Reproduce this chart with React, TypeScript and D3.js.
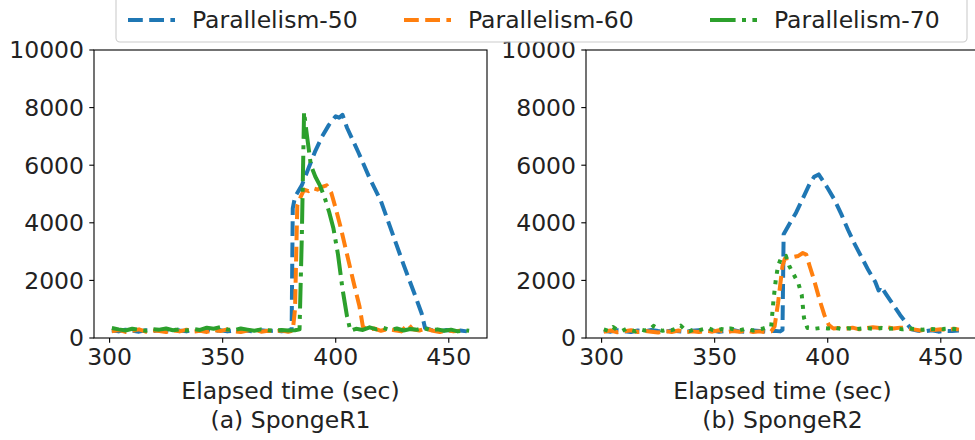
import React from 'react'
import * as d3 from 'd3'

// [elapsed sec, value] readings per run
const r1p50 = [
  [301, 260], [304, 230], [307, 290], [310, 250], [313, 220], [316, 270], [319, 240], [322, 280],
  [325, 250], [328, 300], [331, 260], [334, 230], [337, 280], [340, 250], [343, 290], [346, 240],
  [349, 270], [352, 230], [355, 260], [358, 300], [361, 250], [364, 230], [367, 270], [370, 240],
  [373, 260], [376, 230], [379, 250], [380.5, 300], [381, 4500], [382, 4900], [385, 5300],
  [388, 5900], [391, 6500], [394, 7000], [397, 7400], [400, 7700], [401.5, 7650], [403, 7750],
  [405, 7300], [410, 6450], [415, 5550], [420, 4750], [425, 3650], [430, 2550], [435, 1500],
  [438, 850], [439.5, 350], [443, 260], [446, 230], [449, 280], [452, 240], [455, 260], [458, 230],
]

const r1p60 = [
  [301, 230], [304, 280], [307, 210], [310, 250], [313, 300], [316, 220], [319, 260], [322, 240],
  [325, 210], [328, 270], [331, 230], [334, 290], [337, 220], [340, 250], [343, 210], [346, 280],
  [349, 240], [352, 300], [355, 230], [358, 210], [361, 260], [364, 300], [367, 220], [370, 250],
  [373, 230], [376, 260], [379, 220], [381, 250], [382, 1000], [383, 4600], [384.5, 4900],
  [386, 5150], [388, 5100], [390, 5200], [392, 5150], [394, 5250], [396, 5300], [398, 5050],
  [400, 4500], [402, 3900], [405, 2900], [408, 1900], [410.5, 1100], [412, 400], [414, 280],
  [417, 330], [420, 250], [423, 310], [426, 270], [429, 230], [432, 480], [434, 300], [437, 260],
  [440, 330], [443, 250], [446, 210], [449, 270], [452, 230], [455, 250],
]

const r1p70 = [
  [301, 350], [304, 300], [307, 260], [310, 320], [313, 280], [316, 250], [319, 310], [322, 290],
  [325, 330], [328, 270], [331, 300], [334, 260], [337, 310], [340, 280], [343, 360], [346, 320],
  [349, 380], [352, 300], [355, 270], [358, 330], [361, 290], [364, 250], [367, 300], [370, 270],
  [373, 260], [376, 280], [379, 260], [382, 270], [384, 300], [385, 3500], [386, 7850], [387, 7200],
  [388, 6600], [389, 6000], [391, 5600], [393, 5300], [395, 4900], [397, 4400], [399, 3800],
  [401, 2900], [403, 1700], [405, 750], [406.5, 250], [409, 320], [412, 280], [415, 370],
  [418, 300], [421, 350], [424, 280], [427, 330], [430, 260], [433, 310], [436, 290], [439, 340],
  [442, 270], [445, 300], [448, 250], [451, 290], [454, 230], [457, 270], [459, 250],
]

const r2p50 = [
  [301, 250], [304, 220], [307, 270], [310, 240], [313, 210], [316, 260], [319, 230], [322, 280],
  [325, 240], [328, 220], [331, 260], [334, 230], [337, 210], [340, 250], [343, 270], [346, 230],
  [349, 260], [352, 220], [355, 250], [358, 280], [361, 230], [364, 210], [367, 260], [370, 240],
  [373, 220], [376, 250], [379, 230], [380, 280], [380.5, 3600], [383, 3950], [386, 4350],
  [389, 4850], [392, 5350], [394, 5600], [396, 5680], [398, 5450], [400, 5200], [403, 4800],
  [406, 4300], [409, 3750], [412, 3250], [415, 2800], [418, 2350], [421, 1950], [422.5, 1650],
  [423.5, 1800], [426, 1500], [429, 1150], [432, 800], [435, 500], [437, 300], [440, 250],
  [443, 230], [446, 270], [449, 220], [452, 250], [455, 240], [458, 260],
]

const r2p60 = [
  [301, 220], [304, 260], [307, 200], [310, 230], [313, 270], [316, 210], [319, 250], [322, 220],
  [325, 190], [328, 240], [331, 210], [334, 260], [337, 200], [340, 230], [343, 210], [346, 250],
  [349, 220], [352, 270], [355, 200], [358, 240], [361, 220], [364, 260], [367, 210], [370, 230],
  [373, 200], [375, 230], [376.5, 400], [378, 1200], [380, 2500], [381, 2750], [384, 2800],
  [387, 2850], [389, 2950], [390.5, 2900], [392, 2500], [394, 2000], [396.5, 1300], [398.5, 800],
  [400.5, 450], [402.5, 330], [405, 350], [408, 320], [411, 360], [414, 300], [417, 340],
  [420, 370], [423, 350], [426, 380], [429, 330], [432, 360], [435, 340], [438, 300], [441, 260],
  [444, 310], [447, 280], [450, 300], [453, 270], [456, 320], [458, 290],
]

const r2p70 = [
  [301, 300], [303, 250], [305, 380], [307, 280], [309, 240], [311, 320], [313, 270], [315, 230],
  [317, 300], [319, 260], [321, 280], [323, 420], [325, 300], [327, 250], [329, 290], [331, 270],
  [333, 330], [335, 430], [337, 280], [339, 240], [341, 300], [343, 270], [345, 310], [347, 350],
  [349, 280], [351, 260], [353, 310], [355, 280], [357, 330], [359, 290], [361, 270], [363, 310],
  [365, 300], [367, 260], [369, 290], [371, 320], [373, 370], [375, 400], [376, 1300], [377, 2000],
  [378, 2500], [379.5, 2800], [381.5, 2850], [383, 2500], [385, 2200], [387, 1900], [388.5, 1500],
  [389.5, 700], [391, 350], [394, 320], [397, 350], [400, 330], [403, 360], [406, 310], [409, 340],
  [412, 300], [415, 330], [418, 340], [421, 310], [424, 350], [427, 320], [430, 340], [433, 300],
  [436, 330], [439, 310], [442, 290], [445, 320], [448, 300], [451, 310], [454, 330], [457, 300],
]

const seriesNames = ['Parallelism-50', 'Parallelism-60', 'Parallelism-70']
const colors = ['#1f77b4', '#ff7f0e', '#2ca02c']
const xTicks = [300, 350, 400, 450]
const yTicks = [0, 2000, 4000, 6000, 8000, 10000]
const captions = ['(a) SpongeR1', '(b) SpongeR2']

const DASHED = '14.8 6.4'
const DASHDOT = '25.6 6.4 4 6.4'
const DOTTED = '4 6.6'

const panels = [
  { left: 94, caption: captions[0], runs: [r1p50, r1p60, r1p70], dashes: [DASHED, DASHED, DASHDOT] },
  { left: 586, caption: captions[1], runs: [r2p50, r2p60, r2p70], dashes: [DASHED, DASHED, DOTTED] },
]

const W = 975
const H = 440
const plotW = 393
const top = 50
const bottom = 338
const font = 'DejaVu Sans, sans-serif'
const fs = 23.5

function Panel({ left, caption, runs, dashes }) {
  const x = d3.scaleLinear().domain([293.1, 466.9]).range([left, left + plotW])
  const y = d3.scaleLinear().domain([0, 10000]).range([bottom, top])
  const line = d3
    .line()
    .x(d => x(d[0]))
    .y(d => y(d[1]))
  const cx = left + plotW / 2
  return (
    <g>
      {runs.map((r, i) => (
        <path
          key={i}
          d={line(r)}
          fill="none"
          stroke={colors[i]}
          strokeWidth={4}
          strokeDasharray={dashes[i]}
          strokeLinejoin="round"
        />
      ))}
      <rect x={left} y={top} width={plotW} height={bottom - top} fill="none" stroke="#000" strokeWidth={1.1} />
      {xTicks.map(t => (
        <g key={t}>
          <line x1={x(t)} x2={x(t)} y1={bottom} y2={bottom + 4.7} stroke="#000" strokeWidth={1.1} />
          <text x={x(t)} y={365} textAnchor="middle" fontSize={fs} fontFamily={font} fill="#222">
            {t}
          </text>
        </g>
      ))}
      {yTicks.map(t => (
        <g key={t}>
          <line x1={left - 4.7} x2={left} y1={y(t)} y2={y(t)} stroke="#000" strokeWidth={1.1} />
          <text x={left - 10} y={y(t)} dy="0.36em" textAnchor="end" fontSize={fs} fontFamily={font} fill="#222">
            {t}
          </text>
        </g>
      ))}
      <text x={cx} y={399} textAnchor="middle" fontSize={fs} fontFamily={font} fill="#222">
        Elapsed time (sec)
      </text>
      <text x={cx} y={428} textAnchor="middle" fontSize={fs} fontFamily={font} fill="#222">
        {caption}
      </text>
    </g>
  )
}

const legendX = [128, 404, 710]
const legendDash = [DASHED, DASHED, DASHDOT]

export default function App() {
  return (
    <div style={{ position: 'absolute', left: 0, top: 0 }}>
      <svg width={W} height={H} style={{ display: 'block', background: '#fff' }}>
        {panels.map((p, i) => (
          <Panel key={i} {...p} />
        ))}
        <rect x={116} y={-6} width={851} height={48} rx={4} fill="#fff" fillOpacity={0.8} stroke="#ccc" strokeWidth={1.1} />
        {seriesNames.map((n, i) => (
          <g key={n}>
            <line
              x1={legendX[i]}
              x2={legendX[i] + 47}
              y1={20}
              y2={20}
              stroke={colors[i]}
              strokeWidth={4}
              strokeDasharray={legendDash[i]}
            />
            <text x={legendX[i] + 64} y={28} fontSize={fs} fontFamily={font} fill="#222">
              {n}
            </text>
          </g>
        ))}
      </svg>
    </div>
  )
}
